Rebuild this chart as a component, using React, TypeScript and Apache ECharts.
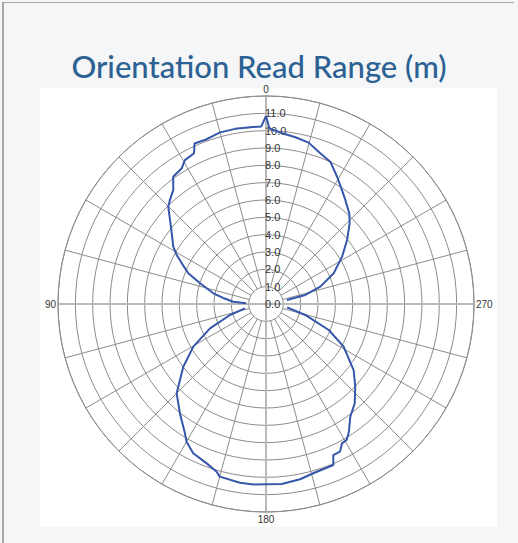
import React, { useEffect, useRef } from "react";
import * as echarts from "echarts";

// Angle in degrees (counter-clockwise from top), read range in metres. null = no reading.
const angles: number[] = [
  0, 1.5, 5, 10, 15, 18, 20, 24, 25.5, 29.4, 31.8, 36.1, 39.1, 42.7, 45.1, 48.8, 53.1, 58.3, 61.2, 64.5, 68.4, 72.6, 78.5, 82, 86, 88,
  95,
  101.6, 107, 113.5, 120.4, 127.2, 135, 141.8, 147.9, 150, 154, 159.6, 163.6, 165, 171.7, 176, 180,
  185, 191, 195.6, 202.7, 204, 206.6, 208.6, 210.7, 213, 216.8, 221.8, 227.2, 233, 241.2, 247.5, 254.4, 261,
  271,
  281, 283, 287.7, 294.4, 301.9, 308.3, 314, 317.4, 322.7, 326.3, 330.8, 335.7, 340.2, 345.2, 350, 354.6, 358.9, 360,
];
const ranges: (number | null)[] = [
  10.85, 10.25, 10.24, 10.26, 10.25, 10.15, 10.1, 10.14, 9.64, 9.53, 9.22, 9.09, 8.48, 8.17, 7.96, 7.36, 6.8, 6.29, 5.88, 5.35, 4.82, 3.99, 3.1, 2.5, 1.89, 1.15,
  null,
  1.24, 2.17, 3.52, 4.86, 5.99, 7.29, 8.03, 8.8, 9.17, 9.58, 9.81, 10.09, 10.31, 10.42, 10.44, 10.4,
  10.42, 10.3, 10.14, 10.07, 9.54, 9.53, 9.16, 9.12, 8.78, 8.12, 7.68, 7.02, 6.33, 5.11, 3.92, 2.35, 1.23,
  null,
  1.23, 2.33, 3.29, 4.29, 5.17, 5.96, 6.71, 7.1, 7.55, 7.9, 8.41, 9.01, 9.24, 9.63, 9.77, 9.89, 10.14, 10.85,
];
const angleLabels: number[] = [0, 90, 180, 270];
const radiusMax = 12;
const title = "Orientation Read Range (m)";

export default function App() {
  const ref = useRef<HTMLDivElement>(null);
  useEffect(() => {
    if (!ref.current) return;
    const chart = echarts.init(ref.current, null, { renderer: "svg" });
    const data = angles.map((a, i) => [ranges[i] === null ? "-" : ranges[i], a]);
    const center = [266, 304];
    const outer = 208;
    const inner = outer / radiusMax; // spokes begin at the 1.0 ring
    const baseAngle = {
      type: "value",
      min: 0,
      max: 360,
      startAngle: 90,
      clockwise: false,
      axisTick: { show: false },
    };
    const hiddenRadius = {
      type: "value",
      min: 0,
      max: radiusMax,
      axisLine: { show: false },
      axisTick: { show: false },
      axisLabel: { show: false },
      splitLine: { show: false },
    };
    chart.setOption({
      animation: false,
      backgroundColor: "transparent",
      title: {
        text: title,
        left: 259,
        textAlign: "center",
        top: 51,
        padding: 0,
        textStyle: {
          color: "#2c6193",
          fontSize: 31,
          fontWeight: 500,
          fontFamily: "Lato",
          lineHeight: 30,
        },
      },
      polar: [
        { center, radius: [0, outer] },
        { center, radius: [inner, outer] },
        { center, radius: [0, outer] },
      ],
      angleAxis: [
        {
          ...baseAngle,
          polarIndex: 0,
          interval: 15,
          axisLine: { show: true, lineStyle: { color: "#8c8c8c", width: 1 } },
          axisLabel: {
            show: true,
            margin: 2,
            color: "#333",
            fontSize: 10,
            lineHeight: 10,
            fontFamily: "Liberation Sans",
            formatter: (v: number) => (angleLabels.includes(v) ? String(v) : ""),
          },
          splitLine: { show: false },
        },
        {
          ...baseAngle,
          polarIndex: 1,
          interval: 15,
          axisLine: { show: false },
          axisLabel: { show: false },
          splitLine: { show: true, lineStyle: { color: "#8c8c8c", width: 1 } },
        },
        {
          ...baseAngle,
          polarIndex: 2,
          interval: 90,
          axisLine: { show: false },
          axisLabel: { show: false },
          splitLine: { show: true, lineStyle: { color: "#b9b9b9", width: 2 } },
        },
      ],
      radiusAxis: [
        {
          polarIndex: 0,
          type: "value",
          min: 0,
          max: radiusMax,
          interval: 1,
          axisLine: { show: false },
          axisTick: { show: false },
          axisLabel: {
            show: true,
            color: "#333",
            fontSize: 11,
            fontFamily: "Liberation Sans",
            align: "left",
            verticalAlign: "middle",
            margin: 1,
            formatter: (v: number) => (v >= radiusMax ? "" : v.toFixed(1)),
          },
          splitLine: { show: true, lineStyle: { color: "#8c8c8c", width: 1 } },
        },
        { ...hiddenRadius, polarIndex: 1 },
        { ...hiddenRadius, polarIndex: 2 },
      ],
      series: [
        {
          type: "line",
          coordinateSystem: "polar",
          polarIndex: 0,
          data,
          showSymbol: false,
          connectNulls: false,
          lineStyle: { color: "#3656ab", width: 2 },
          z: 5,
        },
      ],
    });
    return () => chart.dispose();
  }, []);
  return (
    <div style={{ position: "fixed", left: 0, top: 0, width: 518, height: 543, background: "#f5f6f7", overflow: "hidden" }}>
      <div style={{ position: "absolute", left: 2, top: 2, width: 512, height: 1, background: "#a8a8a8" }} />
      <div style={{ position: "absolute", left: 2, top: 2, width: 2, height: 541, background: "#a8a8a8" }} />
      <div style={{ position: "absolute", left: 40, top: 88, width: 457, height: 439, background: "#ffffff" }} />
      <div ref={ref} style={{ position: "absolute", left: 0, top: 0, width: 518, height: 543 }} />
    </div>
  );
}
